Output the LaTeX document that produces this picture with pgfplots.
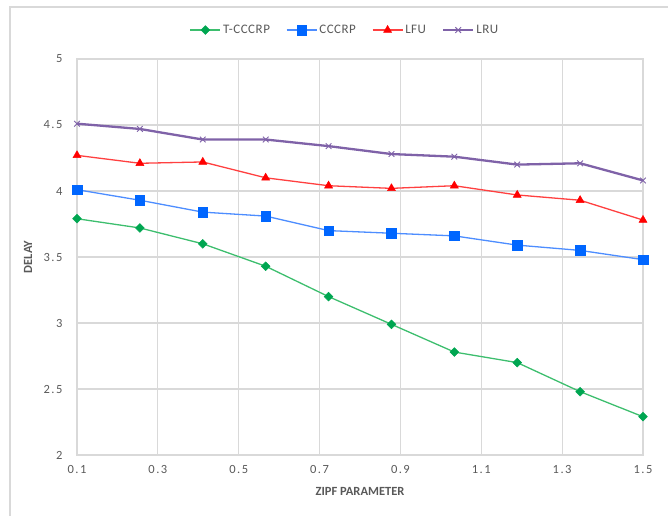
\documentclass[border=0pt]{standalone}
\usepackage{fontspec}
\setmainfont{Carlito}
\usepackage{pgfplots}
\pgfplotsset{compat=1.18}

\definecolor{gridgray}{HTML}{D9D9D9}
\definecolor{txtgray}{HTML}{595959}
\definecolor{tgreen}{HTML}{00A651}
\definecolor{tgreenline}{HTML}{3DBE6E}
\definecolor{cblue}{HTML}{0066FF}
\definecolor{cblueline}{HTML}{4D8DFF}
\definecolor{lred}{HTML}{FF0000}
\definecolor{lredline}{HTML}{FF4040}
\definecolor{rpurple}{HTML}{7F62A8}

\begin{document}
\begin{tikzpicture}[x=1pt,y=1pt]
\path[use as bounding box] (0,0) rectangle (668,515);
% outer chart frame
\draw[gridgray, line width=1.2pt] (10,-20) -- (10,508) -- (690,508);
\begin{axis}[
  at={(77pt,60pt)}, anchor=south west,
  scale only axis, width=566pt, height=396pt,
  xmin=0.1, xmax=1.5, ymin=2, ymax=5,
  xtick={0.1,0.3,0.5,0.7,0.9,1.1,1.3,1.5},
  xticklabels={0.1,0.3,0.5,0.7,0.9,1.1,1.3,1.5},
  ytick={2,2.5,3,3.5,4,4.5,5},
  yticklabels={2,2.5,3,3.5,4,4.5,5},
  grid=major,
  grid style={draw=gridgray, line width=1.2pt},
  axis line style={draw=gridgray, line width=1.2pt},
  tick style={draw=none},
  ticklabel style={font=\fontsize{12.5}{14}\selectfont\addfontfeature{LetterSpace=12}, text=txtgray},
  xticklabel style={yshift=-7pt},
  yticklabel style={xshift=-11pt},
  xlabel={\textbf{ZIPF PARAMETER}},
  ylabel={\textbf{DELAY}},
  label style={font=\fontsize{12.5}{14}\selectfont, text=txtgray},
  xlabel style={at={(axis description cs:0.5,-0.091)}, anchor=center},
  ylabel style={at={(axis description cs:-0.0866,0.5)}, anchor=center},
  legend columns=4,
  legend style={at={(0.4735,1.073)}, anchor=center, draw=none, fill=none,
    font=\fontsize{13}{15}\selectfont\addfontfeature{LetterSpace=4}, text=txtgray,
    /tikz/every even column/.append style={column sep=14pt}},
  legend image code/.code={\draw[#1,mark repeat=2,mark phase=2]
    plot coordinates {(0pt,0pt)(15pt,0pt)(30pt,0pt)};},
]
\addplot[tgreenline, line width=1.3pt, mark=square*, mark size=3.1pt,
  mark options={fill=tgreen, draw=tgreen, line width=0.5pt, rotate=45}] coordinates {
  (0.1,3.79) (0.25556,3.72) (0.41111,3.60) (0.56667,3.43) (0.72222,3.20)
  (0.87778,2.99) (1.03333,2.78) (1.18889,2.70) (1.34444,2.48) (1.5,2.29)};
\addlegendentry{T-CCCRP}
\addplot[cblueline, line width=1.3pt, mark=square*, mark size=4.8pt,
  mark options={fill=cblue, draw=cblue, line width=0.5pt}] coordinates {
  (0.1,4.01) (0.25556,3.93) (0.41111,3.84) (0.56667,3.81) (0.72222,3.70)
  (0.87778,3.68) (1.03333,3.66) (1.18889,3.59) (1.34444,3.55) (1.5,3.48)};
\addlegendentry{CCCRP}
\addplot[lredline, line width=1.3pt, mark=triangle*, mark size=4.6pt,
  mark options={fill=lred, draw=lred, line width=0.5pt}] coordinates {
  (0.1,4.27) (0.25556,4.21) (0.41111,4.22) (0.56667,4.10) (0.72222,4.04)
  (0.87778,4.02) (1.03333,4.04) (1.18889,3.97) (1.34444,3.93) (1.5,3.78)};
\addlegendentry{LFU}
\addplot[rpurple, line width=2.3pt, mark=x, mark size=4pt,
  mark options={draw=rpurple, line width=0.9pt}] coordinates {
  (0.1,4.51) (0.25556,4.47) (0.41111,4.39) (0.56667,4.39) (0.72222,4.34)
  (0.87778,4.28) (1.03333,4.26) (1.18889,4.20) (1.34444,4.21) (1.5,4.08)};
\addlegendentry{LRU}
\end{axis}
\end{tikzpicture}
\end{document}
